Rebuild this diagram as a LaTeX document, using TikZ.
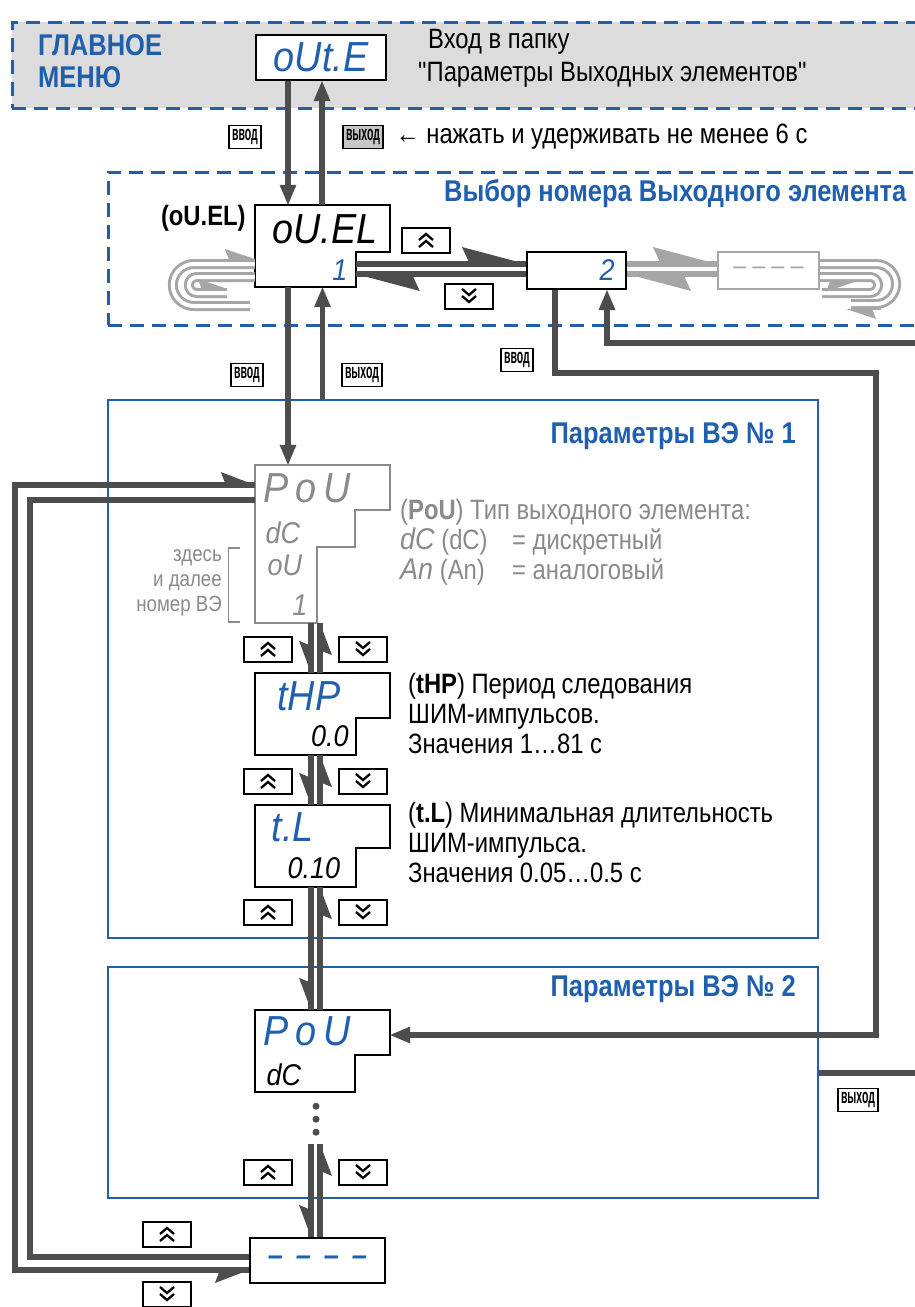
\documentclass[tikz,border=0pt]{standalone}
\usepackage{fontspec}
\setmainfont{Liberation Sans}[FakeStretch=0.85]
\newfontfamily\segfont{Liberation Sans}[FakeStretch=0.9]
\newfontfamily\keyfont{Liberation Sans}[FakeStretch=0.5]
\usetikzlibrary{positioning, arrows.meta}
\definecolor{owenblue}{HTML}{1F5FAD}
\definecolor{wiregray}{HTML}{4D4D4D}
\definecolor{loopgray}{HTML}{A6A6A6}
\definecolor{menufill}{HTML}{DCDCDC}
\definecolor{notegray}{HTML}{8A8A8A}
\newcommand\segbig{\segfont\itshape\fontsize{42}{42}\selectfont}
\newcommand\segmid{\segfont\itshape\fontsize{30}{30}\selectfont}
% outline of a display with a narrower lower row
\newcommand\lcdframe[4][black]{%
  \draw[draw=#1, line width=2.2pt] (#2.north west) -- (#2.north east)
    -- ([shift={(0,#4)}]#2.north east) -- ([shift={(#3,#4)}]#2.north west)
    -- ([shift={(#3,0)}]#2.south west) -- (#2.south west) -- cycle;}

\begin{document}
\begin{tikzpicture}[x=1pt, y=-1pt, line join=miter,
    body/.style={font=\fontsize{28}{30}\selectfont, inner sep=0pt, align=left},
    title/.style={font=\bfseries\fontsize{30}{32}\selectfont, text=owenblue, inner sep=0pt, align=left},
    note/.style={body, text=notegray},
    zone/.style={draw=owenblue, line width=3pt, dash pattern=on 14pt off 8pt, inner sep=0pt},
    pbox/.style={draw=owenblue, line width=2pt, inner sep=0pt, minimum width=710pt},
    lcd/.style={inner sep=0pt, minimum width=135pt, minimum height=82pt},
    box/.style={draw, line width=2.2pt, inner sep=0pt},
    segb/.style={font=\segbig, inner sep=0pt},
    segm/.style={font=\segmid, inner sep=0pt},
    keytxt/.style={draw, line width=1.6pt, inner xsep=3pt, inner ysep=0pt, minimum height=23pt,
      font=\keyfont\bfseries\fontsize{21}{21}\selectfont},
    upkey/.style={draw, line width=2pt, minimum width=48pt, minimum height=25pt, inner sep=0pt,
      path picture={\draw[line width=2.3pt]
        ([shift={(-7,0)}]path picture bounding box.center) -- ++(7,-6) -- ++(7,6)
        ([shift={(-7,7)}]path picture bounding box.center) -- ++(7,-6) -- ++(7,6);}},
    downkey/.style={draw, line width=2pt, minimum width=48pt, minimum height=25pt, inner sep=0pt,
      path picture={\draw[line width=2.3pt]
        ([shift={(-7,-7)}]path picture bounding box.center) -- ++(7,6) -- ++(7,-6)
        ([shift={(-7,0)}]path picture bounding box.center) -- ++(7,6) -- ++(7,-6);}},
    wire/.style={draw=wiregray, line width=5.5pt},
    harpwire/.style={wire, preaction={draw=wiregray, line width=5.5pt, arrows=-}},
    lightwire/.style={draw=loopgray, line width=5.5pt, preaction={draw=loopgray, line width=5.5pt, arrows=-}},
    loopband/.style={draw=loopgray, double=white, double distance=4pt, line width=3pt},
    fulltip/.style={-{Triangle[length=20pt, width=17pt, line width=0pt]}},
    longtip/.style={-{Stealth[harpoon, length=64pt, width=34pt, inset=8pt, line width=0pt]}},
    coltip/.style={-{Stealth[harpoon, swap, length=32pt, width=24pt, inset=5pt, line width=0pt]}},
    sidetip/.style={-{Stealth[harpoon, length=34pt, width=26pt, inset=5pt, line width=0pt]}},
    sidetipswap/.style={-{Stealth[harpoon, swap, length=34pt, width=26pt, inset=5pt, line width=0pt]}},
    looptip/.style={draw=loopgray, line width=1pt, -{Stealth[harpoon, length=30pt, width=20pt, inset=4pt, line width=0pt]}},
    looptipswap/.style={draw=loopgray, line width=1pt, -{Stealth[harpoon, swap, length=30pt, width=20pt, inset=4pt, line width=0pt]}}]
  \useasboundingbox (0,0) rectangle (914,1307);

  % zones
  \node[zone, fill=menufill, minimum width=928pt, minimum height=86pt] (menu) at (476,65) {};
  \node[zone, minimum width=832pt, minimum height=153pt] (selz) at (524,248.5) {};
  \node[pbox, minimum height=538pt] (pbox1) at (463,669) {};
  \node[pbox, minimum height=231pt] (pbox2) at (463,1082.5) {};

  % main menu
  \node[title, anchor=west] (gm) at (38,61) {ГЛАВНОЕ\\МЕНЮ};
  \node[box, fill=white, minimum width=130pt, minimum height=45pt, font=\segbig, text=owenblue] (oute) at (321,57.5) {oUt.E};
  \node[body, anchor=west] (outedesc) at (418,58) {\hspace*{10pt}Вход в папку\\[3pt]{\addfontfeatures{Ligatures=TeXOff}"Параметры Выходных элементов"}};
  \node[keytxt] (kin1) at (245,137) {ввод};
  \node[keytxt, fill=gray!45] (kout1) at (363,137) {выход};
  \node[body, right=12pt of kout1] (holdtxt) {← нажать и удерживать не менее 6 с};

  % element number
  \node[title, anchor=east] (seltitle) at ([shift={(-35,23)}]selz.north east) {Выбор номера Выходного элемента};
  \node[lcd] (ouel) at (322.5,246) {};
  \lcdframe{ouel}{101}{47}
  \node[segb] (oueltxt) at ([shift={(70,24)}]ouel.north west) {oU.EL};
  \node[segm, text=owenblue] (ouelnum) at ([shift={(85,65)}]ouel.north west) {1};
  \node[font=\bfseries\fontsize{28}{30}\selectfont, anchor=east, inner sep=0pt] (ouellbl) at ([shift={(-9,13)}]ouel.north west) {(oU.EL)};
  \node[box, minimum width=99pt, minimum height=37pt] (two) at (576.5,270.5) {};
  \node[segm, text=owenblue] (twotxt) at ([shift={(-20,0)}]two.east) {2};
  \node[box, draw=loopgray, minimum width=101pt, minimum height=37pt, font=\segfont\fontsize{26}{26}\selectfont, text=loopgray] (lastel) at (768.5,270.5) {–\hspace{6pt}–\hspace{6pt}–\hspace{6pt}–};
  \node[upkey] (upsel) at (426,240) {};
  \node[downkey] (dnsel) at (469,296) {};
  \node[keytxt] (kin2) at (247,375) {ввод};
  \node[keytxt] (kout2) at (362,375) {выход};
  \node[keytxt] (kin3) at (517,360) {ввод};

  % parameters of element 1
  \node[title, anchor=east] (p1title) at ([shift={(-23,37)}]pbox1.north east) {Параметры ВЭ № 1};
  \node[lcd, minimum height=158pt] (pou) at (322.5,544) {};
  \draw[notegray, line width=2.2pt] (pou.north west) -- (pou.north east) -- ([shift={(0,45)}]pou.north east)
    -- ([shift={(100,45)}]pou.north west) -- ([shift={(100,82)}]pou.north west)
    -- ([shift={(62,82)}]pou.north west) -- ([shift={(62,0)}]pou.south west) -- (pou.south west) -- cycle;
  \node[segb, text=notegray] (poutxt) at ([shift={(52,23)}]pou.north west) {P\,o\,U};
  \node[segm, text=notegray] (poudc) at ([shift={(28,68)}]pou.north west) {dC};
  \node[segm, text=notegray] (pouou) at ([shift={(30,101)}]pou.north west) {oU};
  \node[segm, text=notegray] (pounum) at ([shift={(45,140)}]pou.north west) {1};
  \node[note, anchor=west] (poudesc) at (400,542) {(\textbf{PoU}) Тип выходного элемента:\\
    \makebox[112pt][l]{{\segmid dC} (dC)}= дискретный\\
    \makebox[112pt][l]{{\segmid An} (An)}= аналоговый};
  \node[font=\fontsize{22}{25}\selectfont, text=notegray, align=right, anchor=east, inner sep=0pt] (bracktxt) at (222,583) {здесь\\и далее\\номер ВЭ};
  \draw[notegray, line width=1.2pt] ([shift={(-15,4)}]pou.west) -| ([shift={(-26,78)}]pou.west) -- ++(11,0);

  \node[lcd] (thp) at (322.5,714) {};
  \lcdframe{thp}{101}{45}
  \node[segb, text=owenblue] (thptxt) at ([shift={(54,23)}]thp.north west) {tHP};
  \node[segm] (thpval) at ([shift={(75,63)}]thp.north west) {0.0};
  \node[body, anchor=west] (thpdesc) at (408,713) {(\textbf{tHP}) Период следования\\ШИМ-импульсов.\\Значения 1…81 с};

  \node[lcd] (tl) at (322.5,846) {};
  \lcdframe{tl}{101}{43}
  \node[segb, text=owenblue] (tltxt) at ([shift={(38,22)}]tl.north west) {t.L};
  \node[segm] (tlval) at ([shift={(59,63)}]tl.north west) {0.10};
  \node[body, anchor=west] (tldesc) at (408,842) {(\textbf{t.L}) Минимальная длительность\\ШИМ-импульса.\\Значения 0.05…0.5 с};

  % parameters of element 2
  \node[title, anchor=east] (p2title) at ([shift={(-23,23)}]pbox2.north east) {Параметры ВЭ № 2};
  \node[lcd] (pou2) at (322.5,1051) {};
  \lcdframe{pou2}{100}{45}
  \node[segb, text=owenblue] (pou2txt) at ([shift={(52,21)}]pou2.north west) {P\,o\,U};
  \node[segm] (pou2dc) at ([shift={(29,65)}]pou2.north west) {dC};
  \foreach \dy in {14,27,40}
    \fill[wiregray] ([shift={(-6.5,\dy)}]pou2.south) circle[radius=3.5pt];
  \node[keytxt] (kout3) at (858,1100) {выход};

  \node[box, fill=white, minimum width=135pt, minimum height=45pt, font=\segmid\bfseries, text=owenblue] (lastpar) at (317.5,1260.5) {–\hspace{13pt}–\hspace{13pt}–\hspace{13pt}–};

  % keys along the column
  \foreach \ky [count=\i] in {649,781,912,1172} {
    \node[upkey] (up\i) at (268,\ky) {};
    \node[downkey] (dn\i) at (363,\ky) {};
  }
  \node[upkey] (upbot) at (167,1234) {};
  \node[downkey] (dnbot) at (167,1294) {};

  % free ends
  \coordinate (rin) at (930,343);
  \coordinate (rout) at (930,1073);
  \coordinate (lft) at (15,880);

  % enter / exit
  \draw[wire, fulltip] ([shift={(-33,0)}]oute.south) -- ([shift={(-33,0)}]oute.south |- ouel.north);
  \draw[wire, fulltip] ([shift={(1,0)}]oute.south |- ouel.north) -- ([shift={(1,0)}]oute.south);
  \draw[wire, fulltip] ([shift={(-34.5,0)}]ouel.south) -- ([shift={(-34.5,0)}]pou.north);
  \draw[wire, fulltip] (ouel.south |- pbox1.north) -- (ouel.south);
  \draw[wire, fulltip] ([shift={(-21.5,0)}]two.south) -- ++(0,83) -- ++(321,0) |- ([shift={(0,-16)}]pou2.east);
  \draw[wire, fulltip] (rin) -| ([shift={(30.5,0)}]two.south);
  \draw[wire] ([shift={(0,-9.5)}]pbox2.east) -- (rout);

  % element number up / down
  \draw[harpwire, longtip] ([shift={(101,18)}]ouel.west) -- ([shift={(0,-6.5)}]two.west);
  \draw[harpwire, longtip] ([shift={(0,3.5)}]two.west) -- ([shift={(101,28)}]ouel.west);
  \draw[lightwire, longtip] ([shift={(0,-6.5)}]two.east) -- ([shift={(0,-6.5)}]lastel.west);
  \draw[lightwire, longtip] ([shift={(0,3.5)}]lastel.west) -- ([shift={(0,3.5)}]two.east);

  % wrap-around loops
  \draw[loopband, rounded corners=21pt] ([shift={(-5,60)}]ouel.west) -- ++(-77,0) -- ++(0,-42) -- ([shift={(0,18)}]ouel.west);
  \draw[looptip] ([shift={(-35,13)}]ouel.west) -- ([shift={(0,13)}]ouel.west);
  \draw[loopband, rounded corners=8pt] ([shift={(0,31)}]ouel.west) -- ++(-66,0) -- ++(0,16) -- ++(38,0);
  \draw[looptip] ([shift={(-55,43)}]ouel.west) -- ([shift={(-27,43)}]ouel.west);
  \draw[loopband, rounded corners=20pt] ([shift={(0,-6.5)}]lastel.east) -- ++(76,0) -- ++(0,40) -- ++(-45,0);
  \draw[looptip] ([shift={(61,38.5)}]lastel.east) -- ([shift={(26,38.5)}]lastel.east);
  \draw[loopband, rounded corners=8pt] ([shift={(0,6.5)}]lastel.east) -- ++(58,0) -- ++(0,16) -- ++(-56,0);
  \draw[looptipswap] ([shift={(6,11)}]lastel.east) -- ([shift={(36,11)}]lastel.east);

  % parameter column
  \foreach \a/\b in {pou/thp, thp/tl, tl/pou2} {
    \draw[harpwire, coltip] ([shift={(-11.5,0)}]\a.south) -- ([shift={(-11.5,0)}]\b.north);
    \draw[harpwire, coltip] ([shift={(-2.5,0)}]\b.north) -- ([shift={(-2.5,0)}]\a.south);
  }
  \draw[harpwire, coltip] ([shift={(-6.5,-93)}]lastpar.north) -- ([shift={(-6.5,0)}]lastpar.north);
  \draw[harpwire, coltip] ([shift={(2.5,0)}]lastpar.north) -- ([shift={(2.5,-93)}]lastpar.north);

  % from last back to first and reverse
  \draw[harpwire, sidetipswap] (lft) |- ([shift={(0,9.5)}]lastpar.west);
  \draw[harpwire, sidetip] (lft) |- ([shift={(0,-59)}]pou.west);
  \draw[wire] ([shift={(0,-44)}]pou.west) -- ++(-225,0) |- ([shift={(0,-3.5)}]lastpar.west);
\end{tikzpicture}
\end{document}
